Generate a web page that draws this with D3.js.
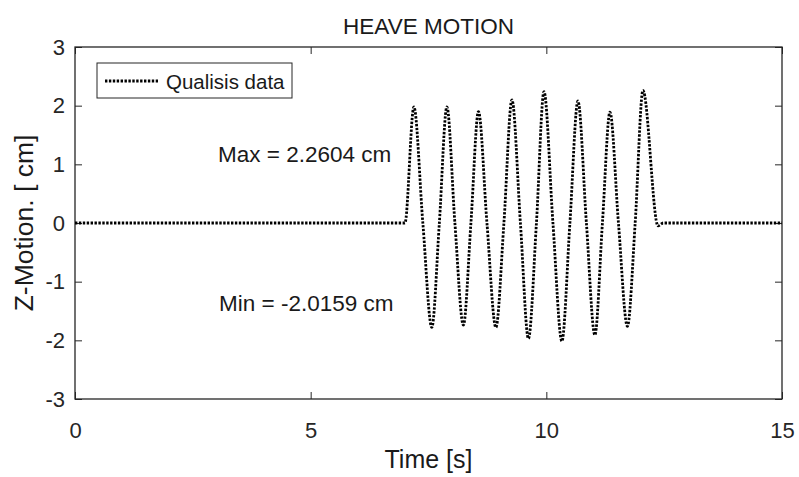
<!DOCTYPE html>
<html>
<head>
<meta charset="utf-8">
<script src="https://cdn.jsdelivr.net/npm/d3@7"></script>
<style>
  html, body { margin: 0; padding: 0; background: #fff; }
  svg { display: block; font-family: "Liberation Sans", Arial, Helvetica, sans-serif; }
</style>
</head>
<body>
<svg id="chart" width="799" height="477"></svg>
<script>
// Heave motion recorded by the Qualisys system (time in s, vertical motion in cm)
const timeS = [0, 7.00, 7.19, 7.38, 7.57, 7.73, 7.89, 8.06, 8.24, 8.40, 8.56, 8.74, 8.93, 9.10,
  9.27, 9.45, 9.62, 9.79, 9.95, 10.14, 10.33, 10.50, 10.67, 10.85, 11.03, 11.19, 11.35, 11.53,
  11.72, 11.885, 12.05, 12.37, 12.48, 15];
const zCm = [0, 0, 1.98, 0, -1.78, 0, 1.98, 0, -1.74, 0, 1.90, 0, -1.78, 0,
  2.10, 0, -1.97, 0, 2.24, 0, -2.0159, 0, 2.08, 0, -1.91, 0, 1.89, 0,
  -1.76, 0, 2.2604, -0.05, 0, 0];

const xTicks = [0, 5, 10, 15];
const yTicks = [-3, -2, -1, 0, 1, 2, 3];
const xDomain = [0, 15];
const yDomain = [-3, 3];

const titleText = "HEAVE MOTION";
const xLabel = "Time [s]";
const yLabel = "Z-Motion. [ cm]";
const legendLabel = "Qualisis data";
const maxText = "Max = " + d3.max(zCm).toFixed(4) + " cm";
const minText = "Min = " + d3.min(zCm).toFixed(4) + " cm";

const svg = d3.select("#chart");
const axisColor = "#262626";
const L = 75, R = 782, T = 47, B = 399;

const x = d3.scaleLinear().domain(xDomain).range([L, R]);
const y = d3.scaleLinear().domain(yDomain).range([B, T]);

const tickFont = 22;
const plainNumber = d => String(d);   // hyphen-minus for negatives

function styleAxis(g) {
  g.select(".domain").remove();
  g.selectAll(".tick line").attr("stroke", axisColor).attr("stroke-width", 1);
  g.selectAll(".tick text").attr("fill", axisColor).style("font-size", tickFont + "px")
    .style("font-family", "'Liberation Sans', Arial, sans-serif");
}

// bottom / left axes with labels, ticks pointing inward
svg.append("g").attr("transform", `translate(0,${B})`)
  .call(d3.axisBottom(x).tickValues(xTicks).tickSize(-7).tickPadding(23).tickFormat(plainNumber))
  .call(styleAxis);
svg.append("g").attr("transform", `translate(${L},0)`)
  .call(d3.axisLeft(y).tickValues(yTicks).tickSize(-7).tickPadding(10).tickFormat(plainNumber))
  .call(styleAxis);
// top / right axes: ticks only
svg.append("g").attr("transform", `translate(0,${T})`)
  .call(d3.axisTop(x).tickValues(xTicks).tickSize(-7).tickFormat(""))
  .call(styleAxis);
svg.append("g").attr("transform", `translate(${R},0)`)
  .call(d3.axisRight(y).tickValues(yTicks).tickSize(-7).tickFormat(""))
  .call(styleAxis);

// axes box
svg.append("rect")
  .attr("x", L).attr("y", T).attr("width", R - L).attr("height", B - T)
  .attr("fill", "none").attr("stroke", axisColor).attr("stroke-width", 1.3);

// data line
const line = d3.line()
  .x((d, i) => x(timeS[i]))
  .y(d => y(d))
  .curve(d3.curveMonotoneX);

const dotted = { width: 2.8, dash: "2.4,1.5" };

svg.append("path")
  .datum(zCm)
  .attr("d", line)
  .attr("fill", "none")
  .attr("stroke", "#000")
  .attr("stroke-width", dotted.width)
  .attr("stroke-dasharray", dotted.dash);

// annotations
svg.append("text").attr("x", 218).attr("y", 162)
  .style("font-size", "22.5px").attr("fill", "#1a1a1a").text(maxText);
svg.append("text").attr("x", 219).attr("y", 311)
  .style("font-size", "22.5px").attr("fill", "#1a1a1a").text(minText);

// legend
const lg = svg.append("g");
lg.append("rect").attr("x", 97).attr("y", 63).attr("width", 195).attr("height", 35)
  .attr("fill", "#fff").attr("stroke", axisColor).attr("stroke-width", 1);
lg.append("line").attr("x1", 105).attr("x2", 158).attr("y1", 81).attr("y2", 81)
  .attr("stroke", "#000").attr("stroke-width", dotted.width).attr("stroke-dasharray", dotted.dash);
lg.append("text").attr("x", 166).attr("y", 88.5)
  .style("font-size", "20.5px").attr("fill", "#1a1a1a").text(legendLabel);

// title and axis labels
svg.append("text").attr("x", (L + R) / 2).attr("y", 34).attr("text-anchor", "middle")
  .style("font-size", "22.5px").attr("fill", "#1a1a1a").text(titleText);
svg.append("text").attr("x", (L + R) / 2).attr("y", 468).attr("text-anchor", "middle")
  .style("font-size", "25px").attr("fill", "#1a1a1a").text(xLabel);
svg.append("text")
  .attr("transform", `translate(33,${(T + B) / 2}) rotate(-90)`)
  .attr("text-anchor", "middle")
  .style("font-size", "26.5px").attr("fill", "#1a1a1a").text(yLabel);
</script>
</body>
</html>
